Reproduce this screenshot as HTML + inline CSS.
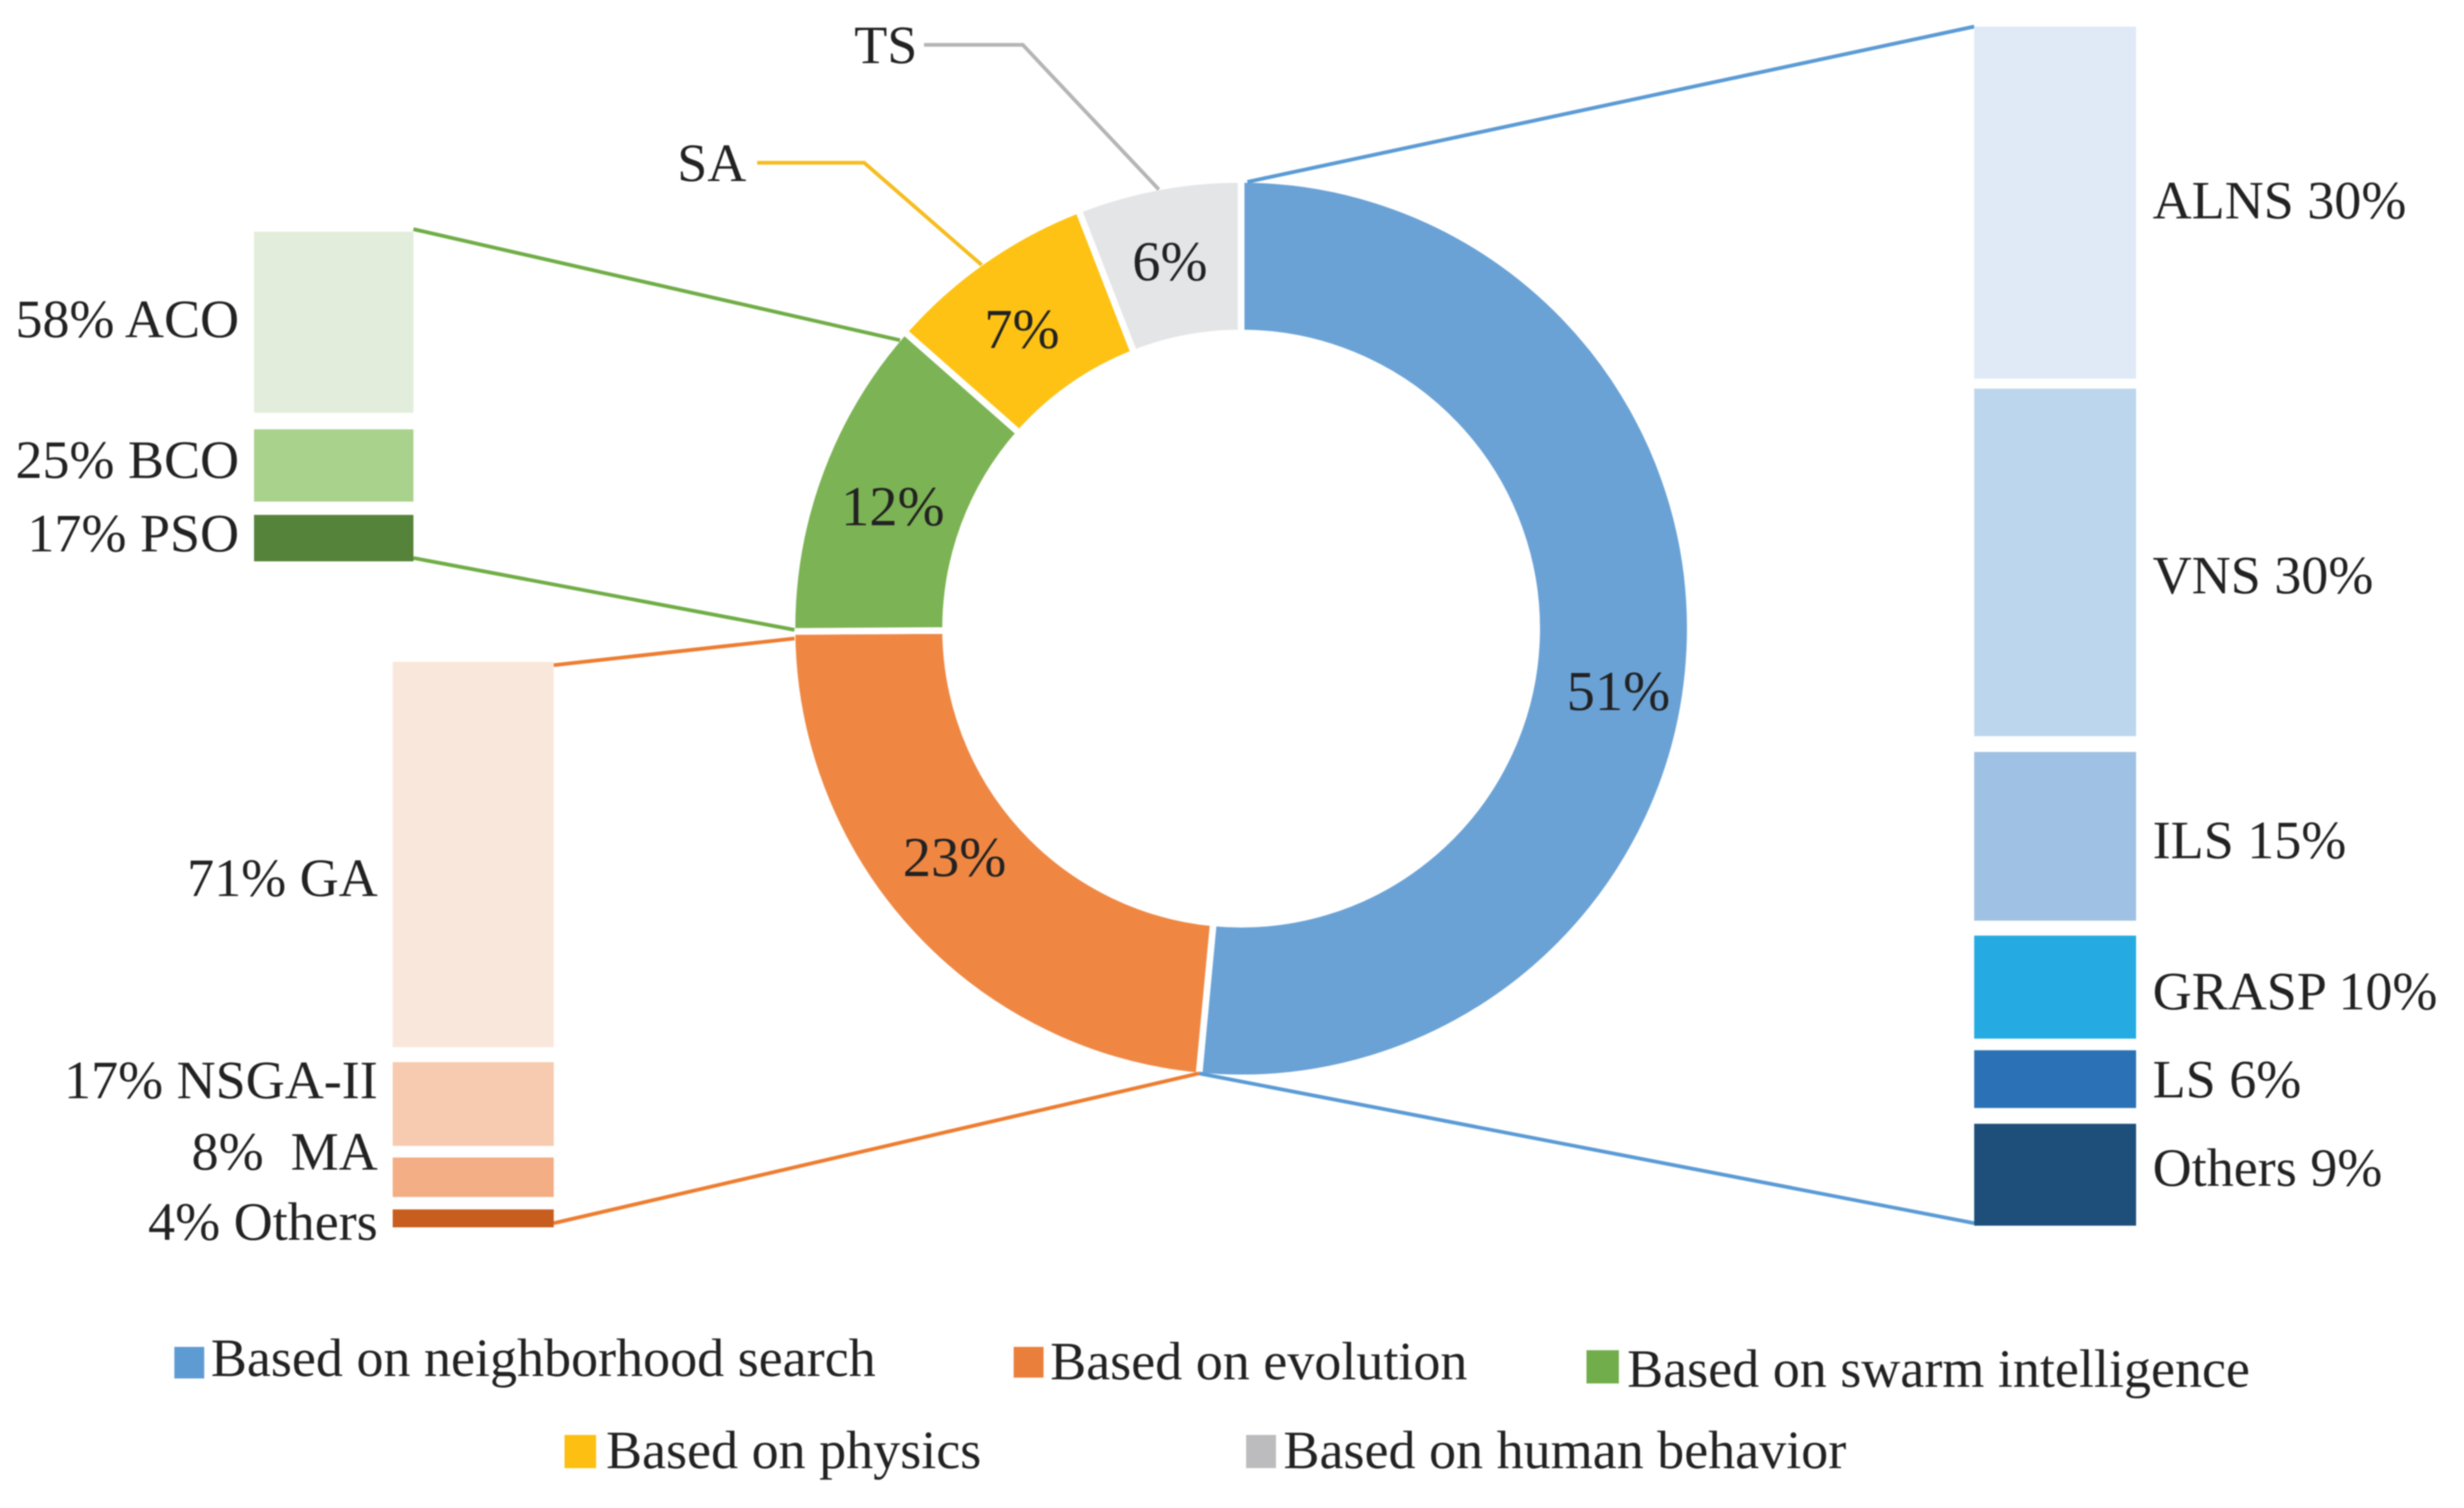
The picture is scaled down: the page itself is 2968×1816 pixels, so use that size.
<!DOCTYPE html>
<html lang="en">
<head>
<meta charset="utf-8">
<title>Metaheuristic categories donut chart</title>
<style>
html,body{margin:0;padding:0;background:#fff;}
svg{display:block;filter:blur(0.9px);}
text{font-family:"Liberation Serif","DejaVu Serif",serif;fill:#222;font-size:65.1px;white-space:pre;text-rendering:geometricPrecision;}
.pct{font-size:68px;}
</style>
</head>
<body>
<svg id="chart" xmlns="http://www.w3.org/2000/svg" width="2968" height="1816" viewBox="0 0 2968 1816">
  <rect x="0" y="0" width="2968" height="1816" fill="#ffffff"/>
  <g id="slices"></g>
  <g id="leaders"></g>
  <g id="stacks"></g>
  <g id="callouts"></g>
  <g>
    <g>
      <rect x="210" y="1622" width="36" height="38" fill="#5f9bd3"/>
      <text x="254" y="1657">Based on neighborhood search</text>
    </g>
    <g>
      <rect x="1221" y="1622" width="36" height="37" fill="#ea7f3c"/>
      <text x="1265" y="1661">Based on evolution</text>
    </g>
    <g>
      <rect x="1911" y="1626" width="39" height="40" fill="#72ad4b"/>
      <text x="1960" y="1670">Based on swarm intelligence</text>
    </g>
    <g>
      <rect x="680" y="1728" width="38" height="40" fill="#fcbf12"/>
      <text x="730" y="1768">Based on physics</text>
    </g>
    <g>
      <rect x="1501" y="1728" width="36" height="40" fill="#bcbcbe"/>
      <text x="1546" y="1768">Based on human behavior</text>
    </g>
  </g>
</svg>
<script>
// ---- data ----
const sliceKeys = ['neighborhood-search', 'evolution', 'swarm-intelligence', 'physics', 'human-behavior'];
const sliceValues = [51.5, 23.4, 11.6, 7.6, 5.9];
const slicePrinted = ['51%', '23%', '12%', '7%', '6%'];

const blueNames = ['ALNS', 'VNS', 'ILS', 'GRASP', 'LS', 'Others'];
const blueShares = [31.1, 30.7, 14.9, 9.1, 5.1, 9.0];
const bluePrinted = ['ALNS 30%', 'VNS 30%', 'ILS 15%', 'GRASP 10%', 'LS 6%', 'Others 9%'];

const orangeNames = ['GA', 'NSGA-II', 'MA', 'Others'];
const orangeShares = [73.2, 15.9, 7.5, 3.4];
const orangePrinted = ['71% GA', '17% NSGA-II', '8%  MA', '4% Others'];

const greenNames = ['ACO', 'BCO', 'PSO'];
const greenShares = [60.4, 24.1, 15.5];
const greenPrinted = ['58% ACO', '25% BCO', '17% PSO'];

// ---- style and layout (not data) ----
const sliceColors = ['#6aa2d6', '#ef8743', '#7cb354', '#fdc213', '#e4e5e7'];
const blueColors = ['#dfeaf6', '#bcd6ee', '#9fc1e3', '#25abe2', '#2a72b5', '#1e4f7a'];
const orangeColors = ['#fae7db', '#f7cbb0', '#f3ae85', '#c85d20'];
const greenColors = ['#e2eedb', '#a9d28c', '#558339'];
const labelNudgeX = [6, -14, 1, -7, -3];
const labelNudgeY = [54, -28, 10, 7, -1];
const blueBaselineOffsets = [-2, 16, 5.5, 6, 1, -7.5];
const orangeBaselineOffsets = [29, -28, -30, 5];
const greenBaselineOffsets = [-3, -6, -5];

const NS = 'http://www.w3.org/2000/svg';
const CX = 1495, CY = 757, R_OUT = 541, R_IN = 356, R_EDGE = 538, R_MID = 449;
const total = sliceValues.reduce(function (a, b) { return a + b; }, 0);

function angleOf(v) { return v / total * 360; }
function polar(deg, r) {
  const a = deg * Math.PI / 180;
  return [CX + r * Math.sin(a), CY - r * Math.cos(a)];
}
function make(tag, attrs) {
  const el = document.createElementNS(NS, tag);
  for (const k in attrs) el.setAttribute(k, attrs[k]);
  return el;
}

// ---- donut ----
const slicesG = document.getElementById('slices');
const boundaries = [0];
sliceValues.forEach(function (v, i) {
  const a0 = boundaries[i];
  const a1 = a0 + angleOf(v);
  boundaries.push(a1);
  const p0 = polar(a0, R_OUT), p1 = polar(a1, R_OUT), p2 = polar(a1, R_IN), p3 = polar(a0, R_IN);
  const large = a1 - a0 > 180 ? 1 : 0;
  const d = 'M' + p0[0] + ' ' + p0[1] +
    ' A' + R_OUT + ' ' + R_OUT + ' 0 ' + large + ' 1 ' + p1[0] + ' ' + p1[1] +
    ' L' + p2[0] + ' ' + p2[1] +
    ' A' + R_IN + ' ' + R_IN + ' 0 ' + large + ' 0 ' + p3[0] + ' ' + p3[1] + ' Z';
  const path = make('path', { d: d, fill: sliceColors[i], stroke: '#ffffff', 'stroke-width': 8 });
  
  
  slicesG.appendChild(path);
});
sliceValues.forEach(function (v, i) {
  const mid = (boundaries[i] + boundaries[i + 1]) / 2;
  const p = polar(mid, R_MID);
  const t = make('text', { x: p[0] + labelNudgeX[i], y: p[1] + labelNudgeY[i] + 23, 'text-anchor': 'middle', class: 'pct' });
  
  
  t.textContent = slicePrinted[i];
  slicesG.appendChild(t);
});

// ---- stacks ----
const stacksG = document.getElementById('stacks');
function drawStack(key, shares, names, printed, colors, baseOffsets, box) {
  const sum = shares.reduce(function (a, b) { return a + b; }, 0);
  const gapSum = box.gaps.reduce(function (a, b) { return a + b; }, 0);
  const usable = box.bottom - box.top - gapSum;
  let y = box.top;
  shares.forEach(function (s, i) {
    const h = s / sum * usable;
    const rect = make('rect', { x: box.left, y: y, width: box.right - box.left, height: h, fill: colors[i] });
    
    
    stacksG.appendChild(rect);
    const t = make('text', {
      x: box.labelX,
      y: y + h / 2 + 21 + baseOffsets[i],
      'text-anchor': box.anchor
    });
    
    
    t.textContent = printed[i];
    stacksG.appendChild(t);
    y += h + (box.gaps[i] || 0);
  });
}
const blueBox = { left: 2378, right: 2573, top: 32, bottom: 1476, gaps: [12, 19, 18, 14, 19], labelX: 2593, anchor: 'start' };
const orangeBox = { left: 473, right: 667, top: 797, bottom: 1478, gaps: [18, 14, 15], labelX: 455, anchor: 'end' };
const greenBox = { left: 306, right: 498, top: 279, bottom: 676, gaps: [20, 16], labelX: 288, anchor: 'end' };
drawStack('neighborhood-search', blueShares, blueNames, bluePrinted, blueColors, blueBaselineOffsets, blueBox);
drawStack('evolution', orangeShares, orangeNames, orangePrinted, orangeColors, orangeBaselineOffsets, orangeBox);
drawStack('swarm', greenShares, greenNames, greenPrinted, greenColors, greenBaselineOffsets, greenBox);

// ---- connector lines ----
const leadersG = document.getElementById('leaders');
function addLeader(name, x1, y1, pt, color) {
  const line = make('line', { x1: x1, y1: y1, x2: pt[0], y2: pt[1], stroke: color, 'stroke-width': 4.5 });
  
  
  leadersG.appendChild(line);
}
addLeader('blue-leader-top', blueBox.left, blueBox.top, polar(boundaries[0] + 0.8, R_EDGE), '#5b9bd5');
addLeader('blue-leader-bottom', blueBox.left, blueBox.bottom - 3, polar(boundaries[1], R_EDGE), '#5b9bd5');
addLeader('orange-leader-top', orangeBox.right, orangeBox.top + 4, polar(boundaries[2] - 0.9, R_EDGE), '#ed7d31');
addLeader('orange-leader-bottom', orangeBox.right, orangeBox.bottom - 5, polar(boundaries[1], R_EDGE), '#ed7d31');
addLeader('green-leader-top', greenBox.right, greenBox.top - 3, polar(boundaries[3] - 1.2, R_EDGE), '#70ad47');
addLeader('green-leader-bottom', greenBox.right, greenBox.bottom - 4, polar(boundaries[2] + 0.2, R_EDGE), '#70ad47');

// ---- callouts ----
const calloutsG = document.getElementById('callouts');
const yellowEdge = polar((boundaries[3] + boundaries[4]) / 2 - 0.6, R_EDGE);
const grayEdge = polar((boundaries[4] + boundaries[5]) / 2, R_EDGE);

const saLine = make('polyline', { points: '912,196 1041,196 ' + yellowEdge[0] + ',' + yellowEdge[1], fill: 'none', stroke: '#f5bd1f', 'stroke-width': 4.5 });


calloutsG.appendChild(saLine);

const saText = make('text', { x: 899, y: 218, 'text-anchor': 'end' });


saText.textContent = 'SA';
calloutsG.appendChild(saText);

const tsLine = make('polyline', { points: '1113,54 1232,54 ' + grayEdge[0] + ',' + grayEdge[1], fill: 'none', stroke: '#b5b5b5', 'stroke-width': 4.5 });


calloutsG.appendChild(tsLine);

const tsText = make('text', { x: 1105, y: 76, 'text-anchor': 'end' });


tsText.textContent = 'TS';
calloutsG.appendChild(tsText);
</script>
</body>
</html>
